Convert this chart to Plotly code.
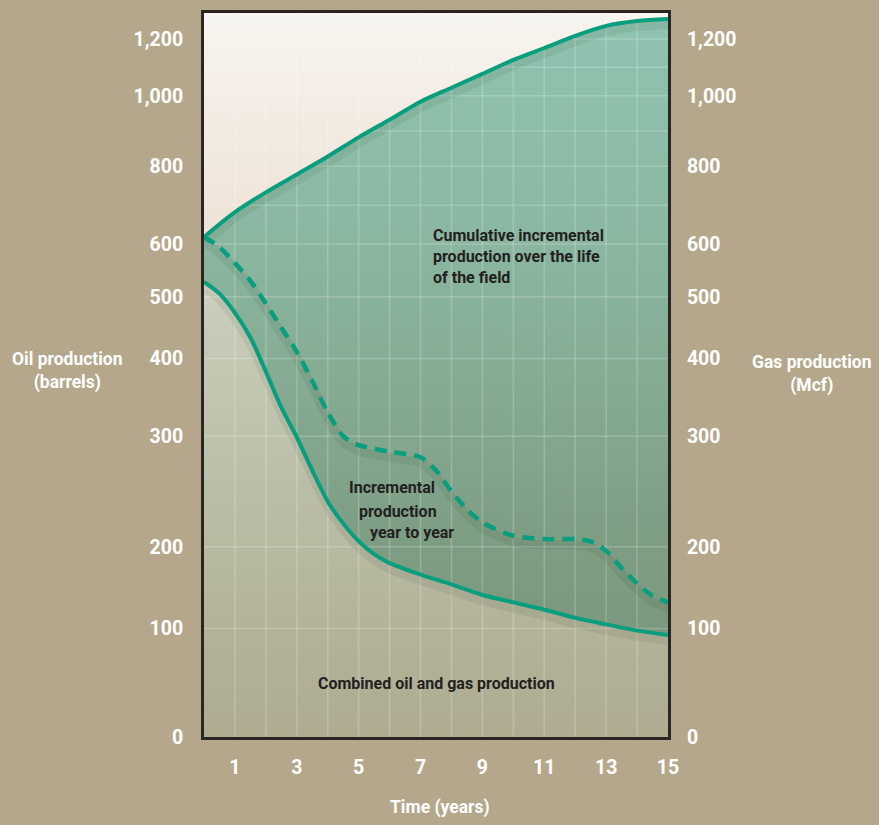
import numpy as np
import plotly.graph_objects as go

# ---- data -------------------------------------------------------------
# Cumulative (upper) production envelope, by year
YEARS_CUM = list(range(16))
CUMULATIVE = [618, 682, 733, 779, 828, 882, 932, 983, 1028, 1077, 1126, 1168,
              1211, 1246, 1263, 1270]

# Incremental year-to-year production (dashed)
YEARS_INC = [0, 0.5, 1, 1.5, 2, 2.5, 3, 3.5, 4, 4.5, 5, 6, 7, 7.5, 8, 8.5, 9,
             10, 11, 12, 12.5, 13, 13.5, 14, 14.5, 15]
INCREMENTAL = [618, 594, 564, 530, 489, 450, 411, 371, 331, 300, 292, 286, 281,
               269, 250, 234, 222, 210, 207, 207, 205, 195, 174, 155, 140, 132]

# Combined oil and gas production (lower line)
YEARS_BASE = [0, 0.5, 1, 1.5, 2, 2.5, 3, 3.5, 4, 4.5, 5, 5.5, 6, 7, 8, 9, 10,
              11, 12, 13, 14, 15]
COMBINED = [528, 506, 474, 434, 383, 337, 299, 269, 241, 221, 205, 191, 180,
            166, 154, 141, 132, 123, 113, 105, 98, 94]

# Axis ticks
X_TICKS = [1, 3, 5, 7, 9, 11, 13, 15]
Y_TICKS = [0, 100, 200, 300, 400, 500, 600, 800, 1000, 1200]
Y_TICK_TEXT = ["0", "100", "200", "300", "400", "500", "600", "800", "1,000", "1,200"]
Y_GRID = list(range(100, 1300, 100))
X_GRID = list(range(1, 15))

# ---- custom vertical scale ---------------------------------------------
# The value axis is stretched unevenly: each labelled value sits at a fixed
# fraction of the plot height, values in between are placed linearly.
AXIS_BREAK_FRACTIONS = [0.0, 0.1499, 0.2627, 0.4154, 0.5227, 0.6080, 0.6809,
                        0.7882, 0.8858, 0.9642]


def to_axis(values):
    v = np.asarray(values, dtype=float)
    out = np.interp(v, Y_TICKS, AXIS_BREAK_FRACTIONS)
    slope = (AXIS_BREAK_FRACTIONS[-1] - AXIS_BREAK_FRACTIONS[-2]) / (Y_TICKS[-1] - Y_TICKS[-2])
    high = v > Y_TICKS[-1]
    out[high] = AXIS_BREAK_FRACTIONS[-1] + (v[high] - Y_TICKS[-1]) * slope
    return out


# ---- styling --------------------------------------------------------------
PAGE_BG = "#B5A78B"
FRAME = "#2A2622"
TEAL = "#099E7D"
DARK_TEXT = "#231F20"
FONT = "Roboto, Liberation Sans, Arial, sans-serif"

fig = go.Figure()

# plot-area backdrop: warm white at the top, grey-green towards the bottom
fig.add_trace(go.Scatter(
    x=[0, 15, 15, 0, 0], y=[0, 0, 1, 1, 0], mode="lines", fill="toself",
    line=dict(width=0), hoverinfo="skip", showlegend=False,
    fillgradient=dict(type="vertical", start=0, stop=1, colorscale=[
        [0.0, "#AEAB91"], [0.15, "#B3B39A"], [0.35, "#BBBEA7"],
        [0.5, "#C2C7B2"], [0.6, "#C9CEBB"], [0.64, "#E6DBCE"],
        [0.7, "#EFE3D7"], [0.85, "#F3EBE2"], [1.0, "#F7F5F0"]]),
))

# green band between combined production and cumulative envelope
fig.add_trace(go.Scatter(
    x=YEARS_BASE, y=to_axis(COMBINED), mode="lines",
    line=dict(width=0, shape="spline", smoothing=0.8),
    hoverinfo="skip", showlegend=False,
))
fig.add_trace(go.Scatter(
    x=YEARS_CUM, y=to_axis(CUMULATIVE), mode="lines", fill="tonexty",
    line=dict(width=0, shape="spline", smoothing=0.8),
    hoverinfo="skip", showlegend=False,
    fillgradient=dict(type="vertical", start=0.1, stop=1, colorscale=[
        [0.0, "#7A967C"], [0.2, "#7E9E84"], [0.45, "#86AC93"],
        [0.7, "#8BB9A3"], [1.0, "#8FC4B0"]]),
))

# grid
gx, gy = [], []
for yr in X_GRID:
    gx += [yr, yr, None]
    gy += [0, 1, None]
for yv in to_axis(Y_GRID):
    gx += [0, 15, None]
    gy += [yv, yv, None]
fig.add_trace(go.Scatter(
    x=gx, y=gy, mode="lines", line=dict(color="rgba(255,255,255,0.2)", width=1.5),
    hoverinfo="skip", showlegend=False,
))

# soft shadows under the curves
for xs, ys in [(YEARS_CUM, CUMULATIVE), (YEARS_INC, INCREMENTAL), (YEARS_BASE, COMBINED)]:
    fig.add_trace(go.Scatter(
        x=xs, y=to_axis(ys) - 0.008, mode="lines",
        line=dict(color="rgba(30,45,30,0.08)", width=9, shape="spline", smoothing=0.8),
        hoverinfo="skip", showlegend=False,
    ))

# curves
fig.add_trace(go.Scatter(
    x=YEARS_CUM, y=to_axis(CUMULATIVE), mode="lines", name="Cumulative",
    line=dict(color=TEAL, width=4, shape="spline", smoothing=0.8), showlegend=False,
))
fig.add_trace(go.Scatter(
    x=YEARS_INC, y=to_axis(INCREMENTAL), mode="lines", name="Incremental",
    line=dict(color=TEAL, width=4.5, dash="12px,8px", shape="spline", smoothing=0.8),
    showlegend=False,
))
fig.add_trace(go.Scatter(
    x=YEARS_BASE, y=to_axis(COMBINED), mode="lines", name="Combined",
    line=dict(color=TEAL, width=4, shape="spline", smoothing=0.8), showlegend=False,
))
# anchor trace for the right-hand axis
fig.add_trace(go.Scatter(
    x=[0], y=[0], yaxis="y2", mode="markers", marker=dict(opacity=0),
    hoverinfo="skip", showlegend=False,
))

tick_font = dict(family=FONT, size=19.5, color="white", weight="bold")
fig.update_layout(
    width=879, height=825,
    margin=dict(l=204, r=211, t=10, b=88, pad=0),
    paper_bgcolor=PAGE_BG, plot_bgcolor=PAGE_BG,
    xaxis=dict(range=[0, 15], tickvals=X_TICKS, ticks="outside", ticklen=11,
               tickcolor="rgba(0,0,0,0)", tickfont=tick_font, showgrid=False,
               zeroline=False, showline=True, linecolor=FRAME, linewidth=3,
               mirror=True, fixedrange=True),
    yaxis=dict(range=[0, 1], tickvals=list(to_axis(Y_TICKS)), ticktext=Y_TICK_TEXT,
               ticks="outside", ticklen=14, tickcolor="rgba(0,0,0,0)",
               tickfont=tick_font, showgrid=False, zeroline=False, showline=True,
               linecolor=FRAME, linewidth=3, mirror=True, fixedrange=True),
    yaxis2=dict(range=[0, 1], overlaying="y", side="right",
                tickvals=list(to_axis(Y_TICKS)), ticktext=Y_TICK_TEXT,
                ticks="outside", ticklen=14, tickcolor="rgba(0,0,0,0)",
                tickfont=tick_font, showgrid=False, zeroline=False,
                showline=False, fixedrange=True),
    showlegend=False,
)

label_font = dict(family=FONT, size=16, color=DARK_TEXT, weight="bold")
title_font = dict(family=FONT, size=17.5, color="white", weight="bold")
annotations = [
    dict(text="Cumulative incremental<br>production over the life<br>of the field",
         x=0.489, y=0.663, xanchor="left", yanchor="middle", align="left", font=label_font),
    dict(text="Incremental", x=0.308, y=0.344, xanchor="left", yanchor="middle", font=label_font),
    dict(text="production", x=0.330, y=0.312, xanchor="left", yanchor="middle", font=label_font),
    dict(text="year to year", x=0.353, y=0.282, xanchor="left", yanchor="middle", font=label_font),
    dict(text="Combined oil and gas production", x=0.5, y=0.074, xanchor="center",
         yanchor="middle", font=label_font),
    dict(text="Oil production<br>(barrels)", x=-0.295, y=0.506, xanchor="center",
         yanchor="middle", align="center", font=title_font),
    dict(text="Gas production<br>(Mcf)", x=1.310, y=0.502, xanchor="center",
         yanchor="middle", align="center", font=title_font),
    dict(text="Time (years)", x=0.509, y=-0.098, xanchor="center", yanchor="middle",
         font=title_font),
]
for a in annotations:
    a.update(xref="paper", yref="paper", showarrow=False)
fig.update_layout(annotations=annotations)

fig.write_html("out.html")
